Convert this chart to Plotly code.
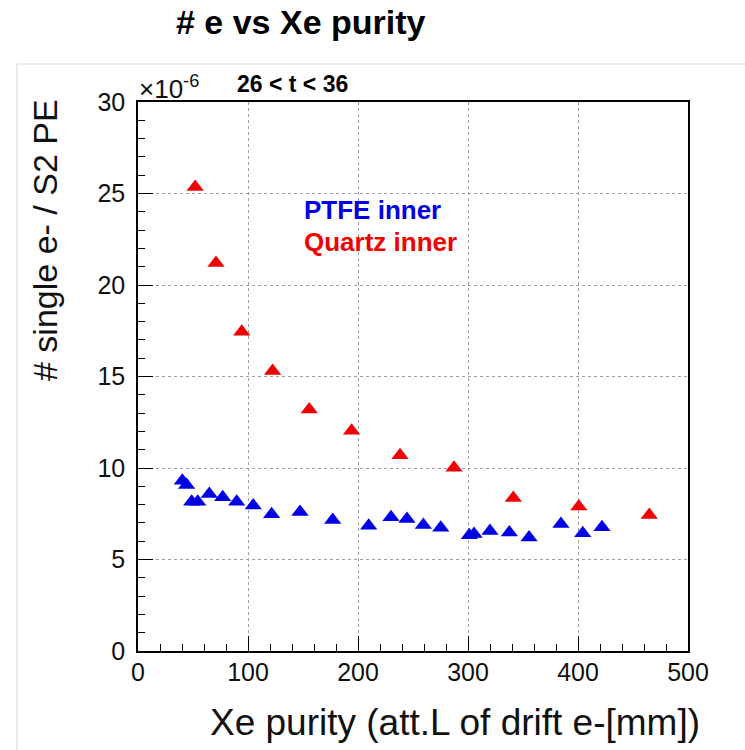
import plotly.graph_objects as go

# ---- data (y values in units of 1e-6) ----
ptfe_x = [40.3, 44.2, 48.8, 54.3, 64.8, 77.0, 89.7, 104.8, 121.5, 147.3, 177.0, 209.7,
          230.0, 244.5, 259.4, 275.2, 301.2, 305.5, 320.0, 337.6, 355.5, 384.5, 404.3, 421.8]
ptfe_y = [9.31, 9.07, 8.16, 8.16, 8.58, 8.40, 8.16, 7.95, 7.47, 7.60, 7.16, 6.85,
          7.31, 7.21, 6.89, 6.74, 6.32, 6.39, 6.56, 6.47, 6.20, 6.94, 6.43, 6.76]
quartz_x = [52.0, 70.9, 94.3, 122.4, 155.7, 194.2, 238.2, 287.3, 341.2, 400.7, 464.8]
quartz_y = [25.36, 21.20, 17.45, 15.30, 13.20, 12.04, 10.69, 10.02, 8.36, 7.89, 7.43]

x_range = [0, 500]
y_range = [0, 30]

title_text = "# e vs Xe purity"
x_title = "Xe purity (att.L of drift e-[mm])"
y_title = "# single e- / S2 PE"
cut_text = "26 < t < 36"
legend_labels = ["PTFE inner", "Quartz inner"]

FONT = "Liberation Sans, Arial, Helvetica, sans-serif"
BLUE = "#0000e6"
RED = "#f00000"

W, H = 745, 750
L, R, T, B = 138, 57, 102, 99
PW, PH = W - L - R, H - T - B


def px(xp):
    return (xp - L) / PW


def py(yp):
    return (H - B - yp) / PH


fig = go.Figure()
fig.add_trace(go.Scatter(x=ptfe_x, y=ptfe_y, mode="markers", name=legend_labels[0],
                         marker=dict(symbol="triangle-up", size=15, color=BLUE, line=dict(width=0))))
fig.add_trace(go.Scatter(x=quartz_x, y=quartz_y, mode="markers", name=legend_labels[1],
                         marker=dict(symbol="triangle-up", size=15, color=RED, line=dict(width=0))))

axis_common = dict(
    showline=True, linecolor="black", linewidth=1.5, mirror=True,
    ticks="inside", tickcolor="black", tickwidth=1.2,
    showgrid=True, gridcolor="#a0a0a0", griddash="dot", gridwidth=1,
    zeroline=False, tickfont=dict(family=FONT, size=25, color="#111"),
)

fig.update_layout(
    width=W, height=H, autosize=False,
    margin=dict(l=L, r=R, t=T, b=B),
    paper_bgcolor="white", plot_bgcolor="white",
    showlegend=False,
    xaxis=dict(range=x_range, dtick=100, tick0=0, ticklen=15, ticklabelstandoff=-2,
               minor=dict(dtick=20, ticklen=7, ticks="inside", tickcolor="black", showgrid=False),
               **axis_common),
    yaxis=dict(range=y_range, dtick=5, tick0=0, ticklen=15, ticklabelstandoff=6,
               minor=dict(dtick=1, ticklen=7, ticks="inside", tickcolor="black", showgrid=False),
               **axis_common),
)

ann = []
ann.append(dict(text="<b>" + title_text + "</b>", x=px(301), y=py(22), xref="paper", yref="paper",
                xanchor="center", yanchor="middle", showarrow=False,
                font=dict(family=FONT, size=34, color="black")))
ann.append(dict(text="<b>" + cut_text + "</b>", x=px(235), y=py(84), xref="paper", yref="paper",
                xanchor="left", yanchor="middle", showarrow=False,
                font=dict(family=FONT, size=23, color="black")))
ann.append(dict(text="×10<sup>-6</sup>", x=px(137), y=py(88), xref="paper", yref="paper",
                xanchor="left", yanchor="middle", showarrow=False,
                font=dict(family=FONT, size=26, color="#111")))
ann.append(dict(text=x_title, x=px(702), y=py(722), xref="paper", yref="paper",
                xanchor="right", yanchor="middle", showarrow=False,
                font=dict(family=FONT, size=37, color="#111")))
ann.append(dict(text=y_title, x=px(45), y=py(97), xref="paper", yref="paper", textangle=-90,
                xanchor="center", yanchor="top", showarrow=False,
                font=dict(family=FONT, size=34, color="#111")))
ann.append(dict(text="<b>" + legend_labels[0] + "</b>", x=px(302), y=py(210), xref="paper", yref="paper",
                xanchor="left", yanchor="middle", showarrow=False,
                font=dict(family=FONT, size=26, color=BLUE)))
ann.append(dict(text="<b>" + legend_labels[1] + "</b>", x=px(302), y=py(242), xref="paper", yref="paper",
                xanchor="left", yanchor="middle", showarrow=False,
                font=dict(family=FONT, size=26, color=RED)))
fig.update_layout(annotations=ann)

# faint canvas frame
fig.add_shape(type="line", xref="paper", yref="paper", x0=px(17), x1=px(745), y0=py(64), y1=py(64),
              line=dict(color="#e4e4e4", width=1.5))
fig.add_shape(type="line", xref="paper", yref="paper", x0=px(17), x1=px(17), y0=py(64), y1=py(750),
              line=dict(color="#e4e4e4", width=1.5))

fig.write_html("out.html")
